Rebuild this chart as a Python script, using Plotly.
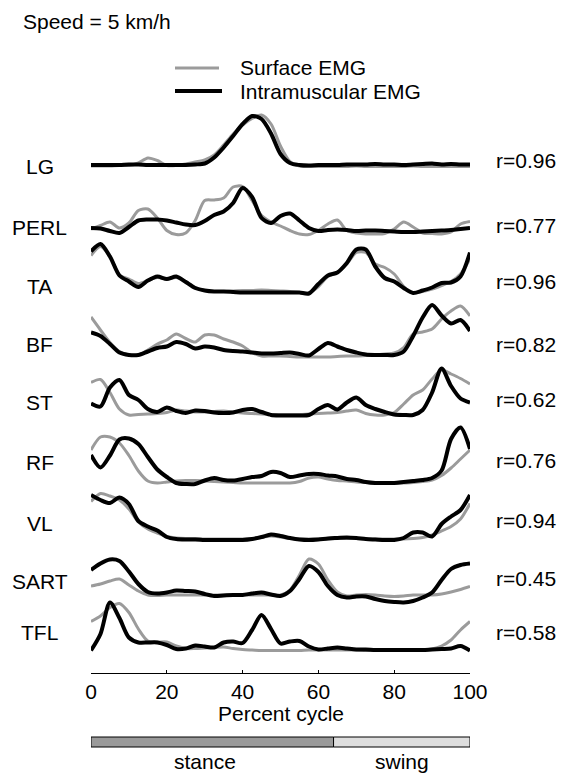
import plotly.graph_objects as go

# Gait cycle sample grid (% of stride)
cycle = [i * 2.5 for i in range(41)]

muscles = ["LG", "PERL", "TA", "BF", "ST", "RF", "VL", "SART", "TFL"]
r_values = ["0.96", "0.77", "0.96", "0.82", "0.62", "0.76", "0.94", "0.45", "0.58"]
stance_end = 64  # % cycle where stance ends

# Normalised EMG envelopes (surface / intramuscular)
lg_surf = [-0.02, -0.02, -0.02, -0.01, -0.01, 0.04, 0.14, 0.09, -0.01, -0.01, 0.02, 0.06, 0.10, 0.20,
           0.40, 0.62, 0.80, 0.93, 1.00, 0.82, 0.38, 0.07, -0.02, -0.03, -0.03, -0.03, -0.03, -0.03,
           -0.02, -0.03, -0.03, -0.03, -0.03, -0.03, -0.02, -0.03, -0.03, -0.03, -0.03, -0.03, -0.03]
lg_intra = [0.00, 0.00, 0.00, 0.00, 0.01, 0.01, 0.00, 0.00, 0.00, 0.00, 0.00, 0.01, 0.03, 0.15,
            0.35, 0.58, 0.82, 0.98, 0.92, 0.63, 0.22, 0.04, 0.00, -0.01, 0.00, 0.00, 0.00, 0.01,
            0.01, 0.01, 0.02, 0.01, 0.01, 0.00, 0.01, 0.02, 0.03, 0.01, 0.02, 0.01, 0.01]

perl_surf = [-0.02, 0.05, 0.12, 0.00, 0.10, 0.35, 0.38, 0.20, -0.05, -0.13, -0.10, 0.15, 0.55, 0.56,
             0.60, 0.82, 0.83, 0.55, 0.25, 0.12, 0.04, -0.05, -0.12, -0.13, -0.05, 0.08, 0.16, -0.05,
             -0.10, -0.12, -0.12, -0.11, -0.02, 0.12, 0.02, -0.10, -0.11, -0.12, -0.08, 0.08, 0.13]
perl_intra = [0.00, -0.01, -0.06, -0.10, 0.02, 0.15, 0.17, 0.17, 0.15, 0.11, 0.07, 0.06, 0.14, 0.26,
              0.33, 0.50, 0.80, 0.62, 0.20, 0.10, 0.24, 0.29, 0.15, 0.00, -0.06, -0.04, -0.03, -0.04,
              -0.06, -0.05, -0.05, -0.06, -0.07, -0.08, -0.08, -0.07, -0.06, -0.05, -0.04, -0.02, 0.00]

ta_surf = [0.72, 0.90, 0.70, 0.33, 0.25, 0.16, 0.22, 0.28, 0.25, 0.28, 0.20, 0.08, 0.02, 0.00,
           0.00, 0.01, 0.02, 0.02, 0.03, 0.02, 0.01, 0.00, -0.02, -0.03, 0.10, 0.30, 0.38, 0.55,
           0.78, 0.78, 0.55, 0.48, 0.35, 0.10, -0.02, 0.00, 0.05, 0.12, 0.20, 0.35, 0.66]
ta_intra = [0.80, 0.95, 0.70, 0.32, 0.20, 0.09, 0.22, 0.30, 0.25, 0.30, 0.19, 0.07, 0.02, 0.00,
            0.00, -0.01, -0.02, -0.02, -0.02, -0.02, -0.02, -0.02, -0.02, -0.04, 0.15, 0.32, 0.38, 0.57,
            0.84, 0.84, 0.50, 0.27, 0.20, 0.07, -0.03, 0.02, 0.08, 0.17, 0.18, 0.30, 0.78]

bf_surf = [0.76, 0.50, 0.25, 0.07, 0.00, 0.00, 0.10, 0.22, 0.30, 0.42, 0.33, 0.26, 0.40, 0.40,
           0.32, 0.26, 0.18, 0.05, -0.02, -0.02, -0.02, -0.03, -0.04, -0.04, -0.04, -0.04, -0.03, -0.02,
           -0.02, -0.01, 0.00, 0.02, 0.04, 0.15, 0.42, 0.46, 0.52, 0.72, 0.88, 0.98, 0.78]
bf_intra = [0.45, 0.38, 0.22, 0.05, 0.00, 0.00, 0.07, 0.14, 0.17, 0.26, 0.22, 0.13, 0.17, 0.15,
            0.10, 0.08, 0.07, 0.05, 0.03, 0.03, 0.04, 0.05, 0.02, -0.01, 0.12, 0.24, 0.17, 0.10,
            0.05, 0.01, 0.00, 0.00, 0.00, 0.07, 0.38, 0.75, 1.00, 0.79, 0.63, 0.70, 0.48]

st_surf = [0.65, 0.71, 0.45, 0.12, 0.00, 0.01, 0.02, 0.03, 0.05, 0.10, 0.08, 0.06, 0.06, 0.07,
           0.08, 0.06, 0.04, 0.03, 0.02, 0.01, 0.01, 0.01, 0.01, 0.02, 0.03, 0.04, 0.05, 0.08,
           0.10, 0.03, 0.00, 0.00, 0.05, 0.22, 0.40, 0.50, 0.72, 0.90, 0.82, 0.73, 0.62]
st_intra = [0.23, 0.17, 0.55, 0.70, 0.40, 0.30, 0.12, 0.06, 0.15, 0.08, 0.04, 0.09, 0.08, 0.05,
            0.04, 0.05, 0.10, 0.12, 0.06, 0.00, -0.01, -0.01, -0.01, 0.00, 0.12, 0.20, 0.11, 0.25,
            0.35, 0.20, 0.12, 0.06, 0.01, 0.00, 0.00, 0.10, 0.45, 0.93, 0.58, 0.33, 0.25]

rf_surf = [0.66, 0.92, 0.92, 0.80, 0.55, 0.24, 0.04, 0.00, 0.02, 0.04, 0.05, 0.05, 0.04, 0.03,
           0.02, 0.01, 0.00, 0.00, 0.00, 0.00, 0.00, 0.00, 0.03, 0.10, 0.12, 0.08, 0.05, 0.04,
           0.02, 0.01, 0.00, -0.01, -0.01, 0.00, 0.01, 0.03, 0.06, 0.15, 0.30, 0.48, 0.66]
rf_intra = [0.56, 0.31, 0.55, 0.87, 0.89, 0.78, 0.52, 0.27, 0.12, 0.00, -0.02, -0.02, 0.05, 0.10,
            0.06, 0.05, 0.08, 0.12, 0.14, 0.22, 0.20, 0.12, 0.15, 0.18, 0.18, 0.15, 0.13, 0.08,
            0.06, 0.02, 0.00, 0.00, 0.00, 0.02, 0.04, 0.06, 0.10, 0.25, 0.88, 1.11, 0.68]

vl_surf = [0.77, 0.93, 0.88, 0.80, 0.62, 0.36, 0.22, 0.14, 0.07, 0.04, 0.03, 0.03, 0.02, 0.02,
           0.02, 0.02, 0.02, 0.03, 0.05, 0.08, 0.06, 0.03, 0.02, 0.02, 0.02, 0.02, 0.03, 0.03,
           0.03, 0.02, 0.02, 0.02, 0.02, 0.02, 0.03, 0.05, 0.10, 0.18, 0.27, 0.42, 0.73]
vl_intra = [0.90, 0.80, 0.74, 0.85, 0.72, 0.38, 0.27, 0.19, 0.06, 0.02, 0.01, 0.01, 0.00, 0.00,
            0.00, 0.00, 0.00, 0.02, 0.06, 0.11, 0.08, 0.04, 0.01, 0.00, 0.01, 0.03, 0.04, 0.05,
            0.04, 0.02, 0.01, 0.00, 0.00, 0.04, 0.15, 0.15, 0.07, 0.32, 0.47, 0.60, 0.90]

sart_surf = [0.18, 0.22, 0.28, 0.32, 0.20, 0.08, 0.00, -0.01, 0.00, 0.00, 0.00, 0.00, 0.00, 0.00,
             0.00, 0.00, 0.00, 0.00, 0.00, 0.00, 0.00, 0.10, 0.40, 0.72, 0.62, 0.30, 0.06, -0.02,
             0.00, 0.01, 0.00, -0.02, -0.03, -0.02, 0.00, 0.00, 0.00, 0.02, 0.06, 0.11, 0.17]
sart_intra = [0.50, 0.63, 0.71, 0.68, 0.47, 0.22, 0.06, 0.03, 0.05, 0.09, 0.08, 0.07, 0.02, -0.02,
              -0.01, 0.00, 0.00, 0.03, 0.05, 0.01, -0.02, 0.08, 0.32, 0.58, 0.46, 0.18, 0.00, -0.05,
              -0.03, -0.03, -0.08, -0.12, -0.14, -0.15, -0.12, -0.05, 0.05, 0.30, 0.52, 0.60, 0.63]

tfl_surf = [0.57, 0.68, 0.85, 0.93, 0.75, 0.42, 0.18, 0.16, 0.16, 0.08, 0.03, 0.03, 0.04, 0.05,
            0.06, 0.03, 0.01, 0.00, -0.01, -0.01, -0.01, -0.01, -0.01, 0.00, 0.00, 0.00, 0.00, 0.00,
            0.00, -0.01, -0.01, -0.01, -0.01, -0.01, 0.00, 0.00, 0.02, 0.08, 0.20, 0.40, 0.57]
tfl_intra = [-0.01, 0.32, 0.95, 0.64, 0.25, 0.15, 0.15, 0.15, 0.10, 0.02, 0.03, 0.09, 0.07, 0.05,
             0.15, 0.17, 0.14, 0.40, 0.70, 0.42, 0.13, 0.17, 0.18, 0.07, 0.01, 0.03, 0.05, 0.03,
             0.01, 0.01, 0.00, 0.00, 0.00, 0.00, 0.00, 0.00, 0.01, 0.02, 0.03, 0.08, -0.01]

surface = [lg_surf, perl_surf, ta_surf, bf_surf, st_surf, rf_surf, vl_surf, sart_surf, tfl_surf]
intramuscular = [lg_intra, perl_intra, ta_intra, bf_intra, st_intra, rf_intra, vl_intra, sart_intra, tfl_intra]

# Layout: vertical placement of each row on the stacked axis (50 px per unit)
row_base = [10.16, 8.90, 7.63, 6.36, 5.16, 3.80, 2.66, 1.56, 0.46]
name_y = [10.14, 8.92, 7.74, 6.58, 5.42, 4.22, 3.00, 1.84, 0.82]
r_y = [10.26, 8.96, 7.84, 6.58, 5.48, 4.26, 3.06, 1.90, 0.82]

W, H = 568, 775
ML, MR, MT, MB = 91, 98, 100, 102
plot_h = H - MT - MB
plot_w = W - ML - MR
y_top = plot_h / 50.0

GRAY = "#9b9b9b"
FONT = "Liberation Sans, Arial, Helvetica, sans-serif"
FS = 21

fig = go.Figure()
for i in range(len(muscles)):
    fig.add_trace(go.Scatter(
        x=cycle, y=[row_base[i] + v for v in surface[i]], mode="lines",
        line=dict(color=GRAY, width=3, shape="spline", smoothing=0.8),
        showlegend=False, hoverinfo="skip"))
for i in range(len(muscles)):
    fig.add_trace(go.Scatter(
        x=cycle, y=[row_base[i] + v for v in intramuscular[i]], mode="lines",
        line=dict(color="black", width=4, shape="spline", smoothing=0.8),
        showlegend=False, hoverinfo="skip"))


def px_x(px):
    return (px - ML) / plot_w


def px_y(py):
    return (H - MB - py) / plot_h


def label(x, xref, y, yref, text, xanchor="center"):
    return dict(x=x, xref=xref, y=y, yref=yref, text=text, showarrow=False,
                xanchor=xanchor, yanchor="middle",
                font=dict(size=FS, color="black", family=FONT))


annotations = []
for i, m in enumerate(muscles):
    annotations.append(label(px_x(40), "paper", name_y[i], "y", m))
    annotations.append(label(px_x(494), "paper", r_y[i], "y", "r=" + r_values[i], "left"))

annotations += [
    label(px_x(21), "paper", px_y(22), "paper", "Speed = 5 km/h", "left"),
    label(px_x(238), "paper", px_y(67), "paper", "Surface EMG", "left"),
    label(px_x(238), "paper", px_y(92), "paper", "Intramuscular EMG", "left"),
    label(50, "x", px_y(713), "paper", "Percent cycle"),
    label(30, "x", px_y(761), "paper", "stance"),
    label((stance_end + 100) / 2, "x", px_y(761), "paper", "swing"),
]

shapes = [
    dict(type="line", xref="paper", yref="paper", x0=px_x(175), x1=px_x(219), y0=px_y(68), y1=px_y(68),
         line=dict(color=GRAY, width=3)),
    dict(type="line", xref="paper", yref="paper", x0=px_x(175), x1=px_x(222), y0=px_y(91), y1=px_y(91),
         line=dict(color="black", width=4)),
    dict(type="rect", xref="x", yref="paper", x0=0, x1=stance_end, y0=px_y(747), y1=px_y(737),
         fillcolor="#9a9a9a", line=dict(color="black", width=1)),
    dict(type="rect", xref="x", yref="paper", x0=stance_end, x1=100, y0=px_y(747), y1=px_y(737),
         fillcolor="#dedede", line=dict(color="black", width=1)),
]

fig.update_layout(
    width=W, height=H, margin=dict(l=ML, r=MR, t=MT, b=MB, pad=0),
    paper_bgcolor="white", plot_bgcolor="white",
    font=dict(family=FONT, size=FS, color="black"),
    xaxis=dict(range=[0, 100], tickvals=[0, 20, 40, 60, 80, 100], ticks="inside", ticklen=3,
               tickcolor="black", showline=True, linecolor="black", linewidth=1,
               showgrid=False, zeroline=False, tickfont=dict(size=FS, family=FONT, color="black")),
    yaxis=dict(range=[0, y_top], visible=False, showgrid=False, zeroline=False),
    annotations=annotations, shapes=shapes, showlegend=False,
)

fig.write_html("out.html")
